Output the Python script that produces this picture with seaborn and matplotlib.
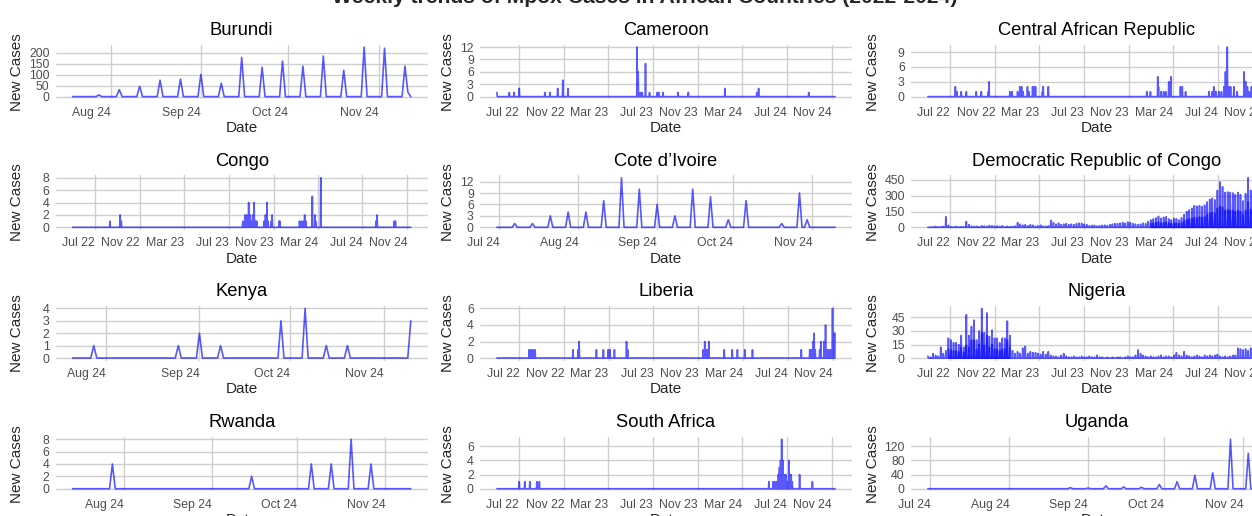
import pandas as pd
import numpy as np
import matplotlib.pyplot as plt
import matplotlib.dates as mdates
import seaborn as sns

countries = ['Burundi', 'Cameroon', 'Central African Republic',
             'Congo', 'Cote d’Ivoire', 'Democratic Republic of Congo',
             'Kenya', 'Liberia', 'Nigeria',
             'Rwanda', 'South Africa', 'Uganda']

# first / last day of each country's daily series
start_dates = ['2024-07-19', '2022-05-01', '2022-05-01',
               '2022-05-01', '2024-06-30', '2022-05-01',
               '2024-07-21', '2022-05-01', '2022-05-01',
               '2024-07-14', '2022-05-01', '2024-06-30']
end_dates = ['2024-11-12', '2024-11-10', '2024-11-10',
             '2024-11-10', '2024-11-10', '2024-11-10',
             '2024-11-10', '2024-11-07', '2024-11-10',
             '2024-11-10', '2024-11-10', '2024-11-10']

y_ticks = [[0, 50, 100, 150, 200], [0, 3, 6, 9, 12], [0, 3, 6, 9],
           [0, 2, 4, 6, 8], [0, 3, 6, 9, 12], [0, 150, 300, 450],
           [0, 1, 2, 3, 4], [0, 2, 4, 6], [0, 15, 30, 45],
           [0, 2, 4, 6, 8], [0, 2, 4, 6], [0, 40, 80, 120]]

burundi_dates = ['2024-07-28', '2024-08-04', '2024-08-11', '2024-08-18', '2024-08-25',
                 '2024-09-01', '2024-09-08', '2024-09-15', '2024-09-22', '2024-09-29',
                 '2024-10-06', '2024-10-13', '2024-10-20', '2024-10-27', '2024-11-03',
                 '2024-11-10', '2024-11-11']
burundi_cases = [8, 32, 47, 75, 80, 102, 61, 179, 134, 162, 139, 185, 120, 226, 221, 139, 20]

cameroon_dates = ['2022-05-01', '2022-06-04', '2022-06-17', '2022-07-01', '2022-09-09',
                  '2022-09-23', '2022-10-14', '2022-10-28', '2022-11-11', '2023-05-19',
                  '2023-05-22', '2023-05-28', '2023-06-02', '2023-06-11', '2023-06-22',
                  '2023-07-13', '2023-07-17', '2023-07-29', '2023-09-08', '2023-10-06',
                  '2024-01-14', '2024-04-10', '2024-04-15', '2024-08-30']
cameroon_cases = [1, 1, 1, 2, 1, 1, 2, 4, 2, 12, 6, 1, 1, 8, 1, 1, 1, 1, 1, 1, 2, 1, 2, 1]

car_dates = ['2022-07-15', '2022-07-19', '2022-07-31', '2022-08-14', '2022-09-10',
             '2022-09-24', '2022-10-13', '2022-10-15', '2022-12-11', '2022-12-17',
             '2023-01-01', '2023-01-07', '2023-01-12', '2023-01-16', '2023-01-28',
             '2023-02-01', '2023-02-11', '2023-02-15', '2023-02-19', '2023-03-10',
             '2023-03-12', '2023-03-26', '2023-12-20', '2023-12-30', '2024-01-19',
             '2024-01-21', '2024-01-28', '2024-02-04', '2024-02-10', '2024-02-18',
             '2024-02-24', '2024-03-21', '2024-03-26', '2024-04-04', '2024-06-07',
             '2024-06-16', '2024-06-20', '2024-06-26', '2024-07-04', '2024-07-11',
             '2024-07-18', '2024-07-22', '2024-07-27', '2024-07-31', '2024-08-05',
             '2024-08-14', '2024-08-23', '2024-09-11', '2024-09-15', '2024-09-20',
             '2024-09-25', '2024-10-01', '2024-10-10', '2024-10-20', '2024-11-03']
car_cases = [2, 1, 1, 1, 1, 1, 1, 3, 1, 1,
             1, 2, 2, 1, 2, 1, 2, 2, 2, 1,
             2, 2, 1, 1, 4, 2, 1, 1, 1, 3,
             4, 2, 2, 1, 1, 1, 2, 1, 1, 1,
             2, 5, 10, 2, 2, 2, 1, 5, 3, 2,
             1, 2, 2, 3, 2]

congo_dates = ['2022-08-11', '2022-09-08', '2022-09-11', '2023-08-09', '2023-08-15',
               '2023-08-20', '2023-08-25', '2023-08-29', '2023-09-03', '2023-09-05',
               '2023-09-09', '2023-09-13', '2023-09-16', '2023-10-06', '2023-10-10',
               '2023-10-14', '2023-10-17', '2023-10-26', '2023-10-28', '2023-11-16',
               '2023-11-18', '2024-01-11', '2024-01-16', '2024-01-21', '2024-01-25',
               '2024-01-28', '2024-02-15', '2024-02-22', '2024-02-24', '2024-03-09',
               '2024-08-07', '2024-08-10', '2024-09-26', '2024-09-29']
congo_cases = [1, 2, 1, 1, 2, 2, 4, 2, 1, 2,
               4, 1, 1, 1, 2, 4, 1, 1, 2, 1,
               1, 1, 1, 1, 2, 1, 5, 2, 1, 8,
               1, 2, 1, 1]

civ_dates = ['2024-07-07', '2024-07-14', '2024-07-21', '2024-07-28', '2024-08-04',
             '2024-08-11', '2024-08-18', '2024-08-25', '2024-09-01', '2024-09-08',
             '2024-09-15', '2024-09-22', '2024-09-29', '2024-10-06', '2024-10-20',
             '2024-10-27', '2024-10-30']
civ_cases = [1, 1, 3, 4, 4, 7, 13, 10, 6, 3, 10, 8, 2, 7, 1, 9, 2]

# weekly reports, Sundays from 2022-05-01
drc_weekly = [0, 2, 5, 10, 3, 5, 8, 100, 20, 5, 3, 8, 4, 6, 5,
              55, 25, 10, 8, 10, 5, 15, 12, 8, 18, 15, 10,
              12, 8, 15, 5, 10, 6, 8, 12,
              45, 30, 20, 25, 15, 25, 20, 10, 15, 20, 12,
              10, 15, 65, 45, 30, 40, 25, 30, 35, 25, 30, 25, 35, 40, 38, 30,
              25, 15, 18, 20, 12, 15, 18, 20, 15, 25, 30, 35, 35, 40, 45, 40,
              50, 45, 35, 30, 25, 30, 40, 35, 55, 70, 80, 90, 105, 85, 95, 100,
              80, 70, 85, 80, 70, 90, 120, 150, 165, 180, 205, 200, 205, 195,
              210, 240, 265, 275, 260, 350, 430, 385, 330, 335, 330, 325, 310,
              330, 310, 250, 320, 470, 350, 380, 300, 420, 350, 280, 300]
# second (lower) weekly report row, Sundays from 2023-12-31
drc_second = [35, 40, 45, 50, 40, 45, 50, 40, 35, 40, 40, 35, 45, 60, 70, 80,
              85, 95, 90, 100, 95, 100, 120, 130, 140, 130, 180, 200, 190, 160,
              165, 160, 160, 150, 160, 150, 120, 160, 240, 170, 180, 150, 200,
              170, 140, 150]

kenya_dates = ['2024-07-28', '2024-08-25', '2024-09-01', '2024-09-08', '2024-09-28',
               '2024-10-06', '2024-10-13', '2024-10-20', '2024-11-10']
kenya_cases = [1, 1, 2, 1, 3, 4, 1, 1, 3]

liberia_dates = ['2022-07-28', '2022-08-02', '2022-08-07', '2022-08-13', '2022-11-24',
                 '2022-12-08', '2022-12-11', '2023-01-27', '2023-02-15', '2023-02-28',
                 '2023-03-05', '2023-03-17', '2023-04-19', '2023-04-22', '2023-11-14',
                 '2023-11-18', '2023-11-21', '2023-11-25', '2023-11-29', '2024-01-10',
                 '2024-02-01', '2024-02-15', '2024-03-06', '2024-03-27', '2024-08-07',
                 '2024-08-30', '2024-09-03', '2024-09-08', '2024-09-11', '2024-09-14',
                 '2024-09-26', '2024-09-29', '2024-10-08', '2024-10-12', '2024-10-17',
                 '2024-10-21', '2024-10-26', '2024-10-31', '2024-11-04', '2024-11-07']
liberia_cases = [1, 1, 1, 1, 1, 1, 2, 1, 1, 1,
                 1, 1, 2, 1, 1, 2, 1, 1, 2, 1,
                 1, 1, 1, 1, 1, 1, 1, 2, 3, 1,
                 1, 2, 2, 4, 1, 1, 1, 6, 3, 3]

nigeria_weekly = [2, 1, 5, 3, 2, 12, 5, 8, 22, 20, 17, 17, 15, 25, 12, 48,
                  25, 35, 42, 20, 30, 55, 28, 50, 24, 31, 22, 22, 17, 22, 22, 41,
                  25, 8, 5, 7, 5, 11, 13, 5, 7, 6, 6, 5, 4, 7, 4, 7,
                  3, 2, 2, 1, 3, 5, 2, 1, 1, 2, 1, 1, 2, 1, 1, 2,
                  1, 1, 3, 1, 1, 0, 1, 0, 1, 0, 1, 1, 0, 1, 2, 1,
                  1, 3, 9, 5, 3, 2, 1, 2, 1, 1, 2, 3, 1, 2, 2, 1,
                  3, 6, 3, 2, 7, 3, 2, 1, 2, 3, 2, 1, 3, 2, 3, 2,
                  3, 4, 2, 1, 2, 1, 2, 3, 3, 11, 10, 9, 10, 8, 11, 8,
                  9, 7, 10, 8, 6]
# second (lower) weekly report row, Sundays from 2022-06-26
nigeria_second = [10, 9, 8, 8, 7, 12, 6, 14, 12, 20, 20, 10, 15, 28, 14, 25,
                  12, 15, 10, 10, 8, 10, 10, 20, 12]

rwanda_dates = ['2024-07-28', '2024-09-15', '2024-10-06', '2024-10-13', '2024-10-20',
                '2024-10-27']
rwanda_cases = [4, 2, 4, 4, 8, 4]

sa_dates = ['2022-07-01', '2022-07-16', '2022-07-30', '2022-08-18', '2022-08-25',
            '2024-05-13', '2024-05-25', '2024-05-29', '2024-06-03', '2024-06-08',
            '2024-06-11', '2024-06-14', '2024-06-17', '2024-06-20', '2024-06-23',
            '2024-06-28', '2024-07-02', '2024-07-07', '2024-07-10', '2024-07-13',
            '2024-07-16', '2024-08-05', '2024-09-09']
sa_cases = [1, 1, 1, 1, 1, 1, 1, 1, 1, 2,
            3, 4, 7, 4, 2, 2, 1, 4, 2, 2,
            1, 2, 1]

uganda_dates = ['2024-08-25', '2024-09-01', '2024-09-08', '2024-09-15', '2024-09-22',
                '2024-09-29', '2024-10-06', '2024-10-13', '2024-10-20', '2024-10-27',
                '2024-11-03']
uganda_cases = [3, 2, 8, 5, 4, 12, 20, 38, 45, 140, 100]

drc_dates = pd.date_range('2022-05-01', periods=len(drc_weekly), freq='7D')
nigeria_dates = pd.date_range('2022-05-01', periods=len(nigeria_weekly), freq='7D')
drc_second_dates = pd.date_range('2023-12-31', periods=len(drc_second), freq='7D')
nigeria_second_dates = pd.date_range('2022-06-26', periods=len(nigeria_second), freq='7D')

reports = [(burundi_dates, burundi_cases), (cameroon_dates, cameroon_cases),
           (car_dates, car_cases), (congo_dates, congo_cases),
           (civ_dates, civ_cases), (drc_dates, drc_weekly),
           (kenya_dates, kenya_cases), (liberia_dates, liberia_cases),
           (nigeria_dates, nigeria_weekly), (rwanda_dates, rwanda_cases),
           (sa_dates, sa_cases), (uganda_dates, uganda_cases)]
second_rows = {'Democratic Republic of Congo': (drc_second_dates, drc_second),
               'Nigeria': (nigeria_second_dates, nigeria_second)}


def daily(name, start, end, dates, cases):
    days = pd.date_range(start, end, freq='D')
    s = pd.Series(0.0, index=days)
    s.loc[pd.to_datetime(dates)] = cases
    return pd.DataFrame({'country': name, 'date': days, 'cases': s.values})


frames = []
for name, start, end, (dates, cases) in zip(countries, start_dates, end_dates, reports):
    frames.append(daily(name, start, end, dates, cases))
df = pd.concat(frames, ignore_index=True)

sns.set_theme(style='whitegrid')
plt.rcParams['font.family'] = ['Liberation Sans', 'DejaVu Sans']

fig = plt.figure(figsize=(12.52, 5.16), dpi=100)
W, H = 1252, 516
col_left = [55.7, 480, 911]
row_top = [44.6, 175.3, 306.0, 436.7]
pw, ph = 372, 54.5
ylab_x = [-0.085, -0.067, -0.083]

for i, name in enumerate(countries):
    r, c = divmod(i, 3)
    ax = fig.add_axes([col_left[c] / W, 1 - (row_top[r] + ph) / H, pw / W, ph / H])
    sub = df[df['country'] == name]
    sns.lineplot(data=sub, x='date', y='cases', ax=ax, color='blue',
                 alpha=0.65, linewidth=1.2, estimator=None)
    if name in second_rows:
        d2, c2 = second_rows[name]
        sub2 = daily(name, d2[0], d2[-1], d2, c2)
        sns.lineplot(data=sub2, x='date', y='cases', ax=ax, color='blue',
                     alpha=0.65, linewidth=1.2, estimator=None)

    for sp in ax.spines.values():
        sp.set_visible(False)
    ax.grid(True, color='#cfcfcf', linewidth=1.0)
    ax.set_yticks(y_ticks[i])

    span = (pd.Timestamp(end_dates[i]) - pd.Timestamp(start_dates[i])).days
    if span > 300:
        ax.xaxis.set_major_locator(mdates.MonthLocator(bymonth=[3, 7, 11]))
    else:
        ax.xaxis.set_major_locator(mdates.MonthLocator())
    ax.xaxis.set_major_formatter(mdates.DateFormatter('%b %y'))
    ax.tick_params(length=0, labelsize=8.8, labelcolor='#4d4d4d')
    ax.tick_params(axis='x', pad=5.5)
    ax.tick_params(axis='y', pad=4.5)
    for lbl in ax.get_xticklabels():
        lbl.set_horizontalalignment('right')

    ax.set_title(name, fontsize=13.2, pad=7, color='black')
    ax.set_xlabel('Date', fontsize=11)
    ax.set_ylabel('New Cases', fontsize=11)
    ax.xaxis.set_label_coords(0.5, -0.40)
    ax.yaxis.set_label_coords(ylab_x[c], 0.5)

fig.text(645 / W, 1 - 3 / H, 'Weekly trends of Mpox Cases in African Countries (2022-2024)',
         ha='center', va='baseline', fontsize=15.2, fontweight='bold')

fig.savefig('out.png', dpi=100)
